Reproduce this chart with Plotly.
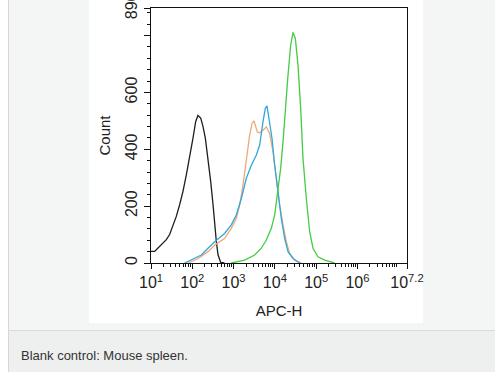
import plotly.graph_objects as go

# ---- data (APC-H intensity, count) ----
black_x = [10, 12.3, 14.8, 19.5, 23.5, 28.3, 34.1, 41.0, 49.4, 59.5, 71.7, 86.3, 104, 121, 137, 160, 182, 207, 240, 279, 318, 348, 382, 420, 487, 600]
black_y = [41, 41, 53, 70, 82, 100, 129, 164, 205, 252, 310, 369, 439, 498, 519, 510, 480, 439, 369, 287, 205, 135, 76, 29, 2, 0]

orange_x = [79, 137, 240, 348, 608, 881, 1166, 1404, 1690, 2036, 2453, 2793, 3126, 3760, 4285, 5160, 6212, 7480, 9014, 10860, 13070, 15740, 18970, 22810, 30140, 43750]
orange_y = [0, 15, 40, 63, 87, 122, 157, 204, 274, 368, 450, 491, 500, 461, 458, 467, 479, 456, 391, 298, 204, 134, 75, 34, 10, 0]

blue_x = [65, 114, 166, 240, 348, 608, 881, 1166, 1541, 2036, 2692, 3557, 4285, 5160, 5875, 6452, 7480, 8530, 9890, 11910, 14330, 17260, 20800, 27480, 39810]
blue_y = [0, 16, 28, 52, 75, 104, 134, 169, 227, 298, 344, 380, 415, 497, 544, 553, 497, 438, 344, 239, 157, 87, 40, 16, 0]

green_x = [881, 1854, 3236, 4699, 6212, 8204, 9890, 11910, 13810, 15740, 17910, 20800, 24150, 27480, 31330, 36310, 42170, 47980, 57800, 69640, 83750, 110700, 160700, 280500]
green_y = [0, 10, 28, 52, 81, 122, 169, 251, 333, 426, 544, 661, 766, 811, 790, 696, 544, 368, 227, 110, 52, 22, 10, 0]

x_tick_vals = [10, 100, 1000, 10000, 100000, 1000000, 10 ** 7.2]
x_tick_text = ["10<sup>1</sup>", "10<sup>2</sup>", "10<sup>3</sup>", "10<sup>4</sup>",
               "10<sup>5</sup>", "10<sup>6</sup>", "10<sup>7.2</sup>"]
y_tick_vals = [0, 200, 400, 600, 800, 896]
y_tick_text = ["0", "200", "400", "600", "", "896"]
caption = "Blank control: Mouse spleen."

# ---- figure ----
W, H = 495, 372
L, R, T, B = 151, 407, 8, 263  # plot area in px


def px(x):
    return (x - L) / (R - L)


def py(y):
    return (B - y) / (B - T)


FONT = "Liberation Sans, Arial, sans-serif"

fig = go.Figure()
series = [
    (black_x, black_y, "#1e1e1e"),
    (orange_x, orange_y, "#f0a878"),
    (blue_x, blue_y, "#30a8dc"),
    (green_x, green_y, "#44cc44"),
]
for xs, ys, c in series:
    fig.add_trace(go.Scatter(x=xs, y=ys, mode="lines",
                             line=dict(color=c, width=1.3),
                             showlegend=False, hoverinfo="skip"))

minor_vals = [m * 10 ** k for k in range(1, 8) for m in range(2, 10) if m * 10 ** k < 10 ** 7.2]

shapes = [
    # outer panel
    dict(type="rect", xref="paper", yref="paper", x0=px(9), x1=px(W + 5), y0=py(330), y1=py(-5),
         fillcolor="#f4f5f5", line=dict(width=0), layer="below"),
    dict(type="line", xref="paper", yref="paper", x0=px(8.5), x1=px(8.5), y0=py(372), y1=py(-5),
         line=dict(color="#d6d8d8", width=1), layer="below"),
    # caption area
    dict(type="rect", xref="paper", yref="paper", x0=px(9), x1=px(W + 5), y0=py(377), y1=py(330.5),
         fillcolor="#eeefef", line=dict(width=0), layer="below"),
    dict(type="line", xref="paper", yref="paper", x0=px(9), x1=px(W + 5), y0=py(330.5), y1=py(330.5),
         line=dict(color="#d8dada", width=1), layer="below"),
    # white image area
    dict(type="rect", xref="paper", yref="paper", x0=px(89), x1=px(423), y0=py(323), y1=py(-5),
         fillcolor="#ffffff", line=dict(width=0), layer="below"),
]

fig.update_layout(
    width=W, height=H,
    margin=dict(l=L, r=W - R, t=T, b=H - B, pad=0, autoexpand=False),
    paper_bgcolor="#ffffff",
    plot_bgcolor="#ffffff",
    font=dict(family=FONT, color="#222222", size=14),
    shapes=shapes,
    xaxis=dict(
        type="log", range=[1, 7.2], automargin=False,
        tickmode="array", tickvals=x_tick_vals, ticktext=x_tick_text,
        ticks="outside", ticklen=5, tickwidth=1, tickcolor="#111",
        minor=dict(tickmode="array", tickvals=minor_vals, ticks="outside", ticklen=3, tickcolor="#111"),
        showline=True, linecolor="#111", linewidth=1.3, mirror=True,
        showgrid=False, zeroline=False,
        tickfont=dict(size=16, color="#222"),
        ticklabeloverflow="allow",
        title=dict(text="APC-H", font=dict(size=15, color="#222"), standoff=15),
    ),
    yaxis=dict(
        range=[0, 897], automargin=False,
        tickmode="array", tickvals=y_tick_vals, ticktext=y_tick_text,
        tickangle=-90,
        ticks="outside", ticklen=6, tickwidth=1, tickcolor="#111",
        minor=dict(dtick=40, tick0=0, ticks="outside", ticklen=3, tickcolor="#111"),
        showline=True, linecolor="#111", linewidth=1.3, mirror=True,
        showgrid=False, zeroline=False,
        tickfont=dict(size=16, color="#222"),
        ticklabeloverflow="allow",
        title=dict(text="Count", font=dict(size=15, color="#222"), standoff=9),
    ),
    annotations=[
        dict(text=caption, xref="paper", yref="paper", x=px(19), y=py(355),
             xanchor="left", yanchor="middle", showarrow=False,
             font=dict(family=FONT, size=13, color="#333333")),
    ],
)

fig.write_html("out.html", config={"displayModeBar": False},
               post_script="document.body.style.margin='0px';document.body.style.overflow='hidden';")
